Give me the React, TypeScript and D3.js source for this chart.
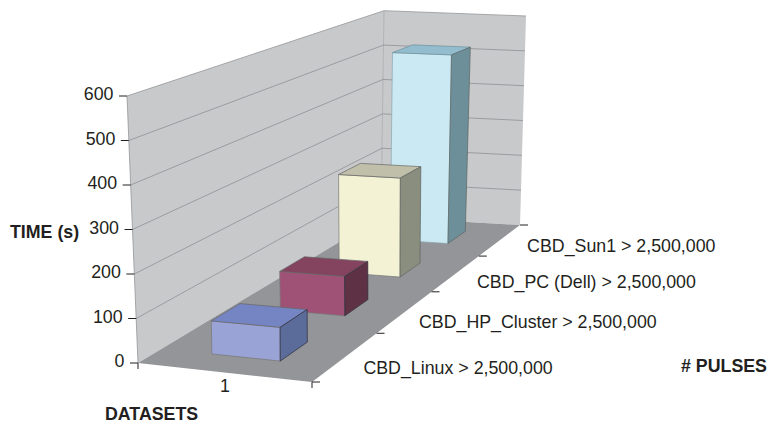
import React from "react";
import * as d3 from "d3";

const categories = ["CBD_Linux > 2,500,000", "CBD_HP_Cluster > 2,500,000", "CBD_PC (Dell) > 2,500,000", "CBD_Sun1 > 2,500,000"];
const values = [75, 95, 257, 522];
const valueTicks = [0, 100, 200, 300, 400, 500, 600];
const datasetLabels = ["1"];
const frontColors = ["#9aa3d6", "#a05276", "#f3f2d5", "#cbe9f3"];
const topColors = ["#7585c4", "#84445f", "#c0bfa9", "#93bdcf"];
const sideColors = ["#5c6c9a", "#5f3145", "#8a8e7e", "#6d8f99"];
const labelDx = [17.8, 13.9, 21, 27];
const labelDy = [17.4, 16.3, 14.4, 11.9];

type Pt = [number, number];
// Perspective map from the unit square to a quadrilateral on the page
function quad(p0: Pt, p1: Pt, p2: Pt, p3: Pt) {
  const dx1 = p1[0] - p2[0], dx2 = p3[0] - p2[0], sx = p0[0] - p1[0] + p2[0] - p3[0];
  const dy1 = p1[1] - p2[1], dy2 = p3[1] - p2[1], sy = p0[1] - p1[1] + p2[1] - p3[1];
  const det = dx1 * dy2 - dx2 * dy1;
  const g = (sx * dy2 - dx2 * sy) / det;
  const h = (dx1 * sy - sx * dy1) / det;
  const a = p1[0] - p0[0] + g * p1[0], b = p3[0] - p0[0] + h * p3[0];
  const d = p1[1] - p0[1] + g * p1[1], e = p3[1] - p0[1] + h * p3[1];
  return (u: number, v: number): Pt => {
    const w = 1 + g * u + h * v;
    return [(p0[0] + a * u + b * v) / w, (p0[1] + d * u + e * v) / w];
  };
}
const floorAt = quad([138, 363], [312, 382], [520, 225], [381, 217]);
const ceilAt = quad([127, 96], [312, 100], [526, 16], [384, 10.7]);

const hScale = d3.scaleLinear().domain([0, 600]).range([0, 1]);
const depth = d3.scaleBand<number>().domain(d3.range(categories.length)).range([0, 1]);
const uScale = d3.scaleLinear().domain([0, 1]).range([0.305, 0.705]);

function project(u: number, v: number, val: number): Pt {
  const f = floorAt(u, v), c = ceilAt(u, v), t = hScale(val);
  return [f[0] + (c[0] - f[0]) * t, f[1] + (c[1] - f[1]) * t];
}
const line = d3.line<Pt>();
const poly = (pts: Pt[]) => line(pts) + "Z";
const FONT = "'Liberation Sans', Arial, sans-serif";
const TEXT = "#231f20";
const SIZE = 17.8;

function Bar({ i }: { i: number }) {
  const vc = (depth(i) as number) + depth.bandwidth() / 2;
  const v0 = vc - 0.05, v1 = vc + 0.05, u0 = uScale(0), u1 = uScale(1), val = values[i];
  const front = [project(u0, v0, 0), project(u1, v0, 0), project(u1, v0, val), project(u0, v0, val)];
  const side = [project(u1, v0, 0), project(u1, v1, 0), project(u1, v1, val), project(u1, v0, val)];
  const top = [project(u0, v0, val), project(u1, v0, val), project(u1, v1, val), project(u0, v1, val)];
  const edge = i === 0 || i === 1 ? "#2a2a3a" : "#5d6460";
  return (
    <g stroke={edge} strokeWidth={0.7} strokeLinejoin="round">
      <path d={poly(front)} fill={frontColors[i]} stroke={i === 3 ? "#8aa5ad" : "#777"} />
      <path d={poly(top)} fill={topColors[i]} stroke={i === 3 ? "#6d8f99" : "#666"} />
      <path d={poly(side)} fill={sideColors[i]} />
    </g>
  );
}

export default function App() {
  const ticksLine = (a: Pt, b: Pt, k: number) => (
    <line key={k} x1={a[0]} y1={a[1]} x2={b[0]} y2={b[1]} stroke="#231f20" strokeWidth={1} />
  );
  return (
    <svg width={769} height={423} style={{ position: "absolute", left: 0, top: 0, background: "#fff" }}>
      {/* left wall */}
      <path d={poly([project(0, 0, 0), project(0, 0, 600), project(0, 1, 600), project(0, 1, 0)])} fill="#c8c9cb" />
      {/* back wall */}
      <path d={poly([project(0, 1, 0), project(0, 1, 600), project(1, 1, 600), project(1, 1, 0)])} fill="#c8c9cb" />
      <path d={line([project(0, 0, 0), project(0, 0, 600), project(0, 1, 600), project(1, 1, 600)]) as string} fill="none" stroke="#939598" strokeWidth={0.8} />
      <path d={line([project(0, 1, 0), project(0, 1, 600)]) as string} fill="none" stroke="#a7a9ac" strokeWidth={0.8} />
      {valueTicks.slice(1, -1).map((t) => (
        <path key={t} d={line([project(0, 0, t), project(0, 1, t), project(1, 1, t)]) as string} fill="none" stroke="#8f9194" strokeWidth={0.8} />
      ))}
      {/* floor */}
      <path d={poly([project(0, 0, 0), project(1, 0, 0), project(1, 1, 0), project(0, 1, 0)])} fill="#939598" />
      {/* bars, back to front */}
      {d3.range(categories.length).reverse().map((i) => <Bar key={i} i={i} />)}
      {/* value axis */}
      {valueTicks.map((t) => {
        const p = project(0, 0, t);
        return (
          <g key={t}>
            {ticksLine(p, [p[0] - 8, p[1]], t)}
            <text x={p[0] - 13.5} y={p[1] + 4} textAnchor="end" fontFamily={FONT} fontSize={SIZE} fill={TEXT}>{t}</text>
          </g>
        );
      })}
      {/* depth ticks */}
      {d3.range(categories.length + 1).map((i) => {
        const p = project(1, i / categories.length, 0);
        return ticksLine(p, [p[0] + 8, p[1]], 100 + i);
      })}
      {ticksLine(project(0, 0, 0), [138, 369], 200)}
      {ticksLine(project(1, 0, 0), [312, 388], 201)}
      {categories.map((c, i) => {
        const p = project(1, (i + 0.5) / categories.length, 0);
        return (
          <text key={c} x={p[0] + labelDx[i]} y={p[1] + labelDy[i]} fontFamily={FONT} fontSize={SIZE} fill={TEXT}>{c}</text>
        );
      })}
      {datasetLabels.map((d) => (
        <text key={d} x={225} y={391.5} textAnchor="middle" fontFamily={FONT} fontSize={SIZE} fill={TEXT}>{d}</text>
      ))}
      <text x={10} y={238} fontFamily={FONT} fontSize={SIZE} fontWeight="bold" fill={TEXT}>TIME (s)</text>
      <text x={105} y={420} fontFamily={FONT} fontSize={SIZE} fontWeight="bold" fill={TEXT}>DATASETS</text>
      <text x={681} y={372} fontFamily={FONT} fontSize={SIZE} fontWeight="bold" fill={TEXT}># PULSES</text>
    </svg>
  );
}
